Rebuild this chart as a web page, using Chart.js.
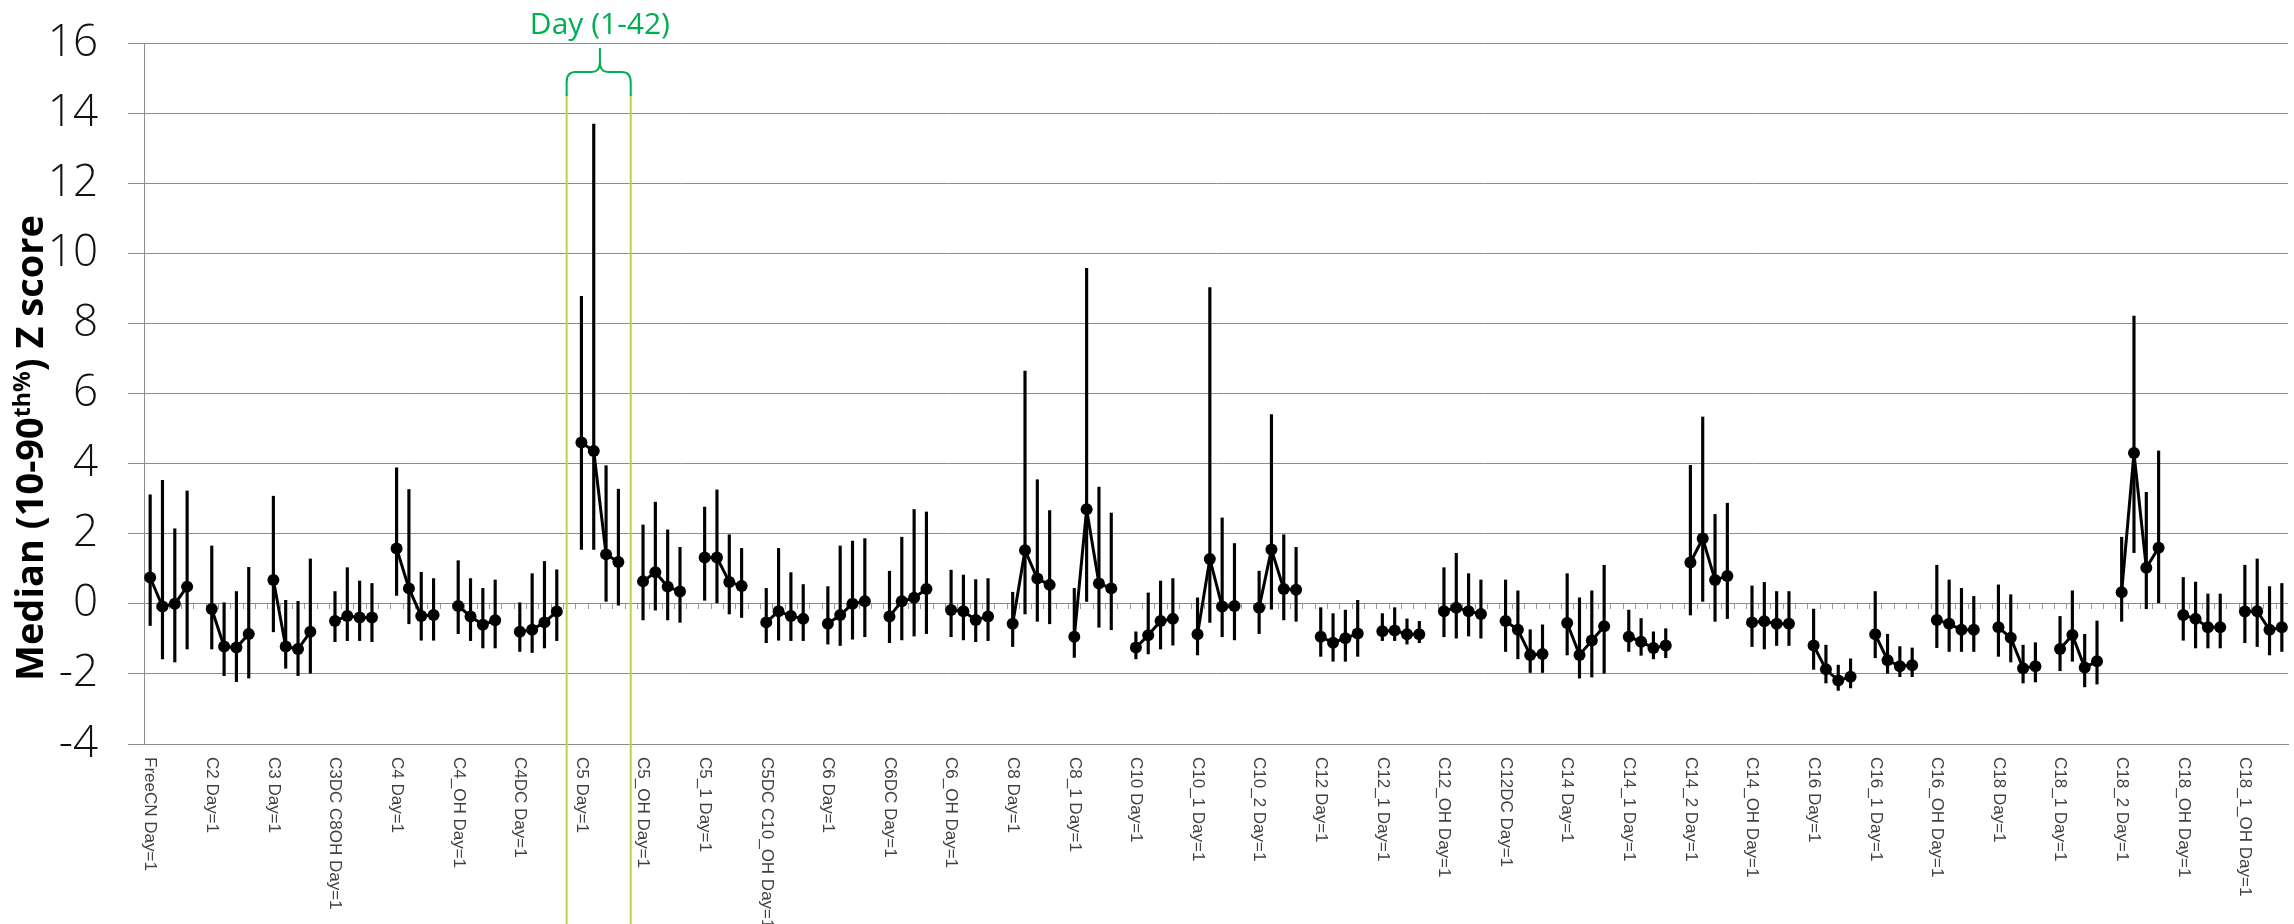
<!DOCTYPE html>
<html>
<head>
<meta charset="utf-8">
<script src="https://cdn.jsdelivr.net/npm/chart.js@4.4.1/dist/chart.umd.min.js"></script>
<style>
  html, body { margin: 0; padding: 0; background: #fff; overflow: hidden; }
  canvas { display: block; }
</style>
</head>
<body>
<canvas id="chart" width="2294" height="924"></canvas>
<script>
// Acylcarnitine species, four sampling days each
const compounds = ['FreeCN','C2','C3','C3DC C8OH','C4','C4_OH','C4DC','C5','C5_OH','C5_1',
  'C5DC C10_OH','C6','C6DC','C6_OH','C8','C8_1','C10','C10_1','C10_2','C12','C12_1','C12_OH',
  'C12DC','C14','C14_1','C14_2','C14_OH','C16','C16_1','C16_OH','C18','C18_1','C18_2','C18_OH','C18_1_OH'];

const tickLabels = compounds.map(c => c + ' Day=1');

// Median Z score per compound and day
const medians = [
  [0.75,-0.08,0.00,0.49],[-0.15,-1.22,-1.25,-0.86],[0.68,-1.22,-1.29,-0.80],[-0.49,-0.35,-0.39,-0.39],
  [1.58,0.44,-0.35,-0.32],[-0.06,-0.36,-0.60,-0.47],[-0.80,-0.74,-0.53,-0.22],[4.60,4.36,1.41,1.19],
  [0.64,0.90,0.49,0.35],[1.32,1.32,0.62,0.51],[-0.53,-0.21,-0.35,-0.43],[-0.57,-0.32,0.00,0.07],
  [-0.36,0.07,0.17,0.42],[-0.18,-0.21,-0.46,-0.36],[-0.57,1.53,0.72,0.54],[-0.94,2.70,0.58,0.44],
  [-1.25,-0.90,-0.49,-0.43],[-0.87,1.28,-0.08,-0.06],[-0.11,1.55,0.42,0.40],[-0.94,-1.11,-0.98,-0.85],
  [-0.78,-0.76,-0.87,-0.87],[-0.21,-0.11,-0.21,-0.29],[-0.49,-0.74,-1.46,-1.43],[-0.55,-1.46,-1.05,-0.64],
  [-0.94,-1.08,-1.26,-1.19],[1.18,1.86,0.68,0.79],[-0.53,-0.50,-0.57,-0.57],[-1.19,-1.87,-2.19,-2.08],
  [-0.87,-1.61,-1.78,-1.75],[-0.46,-0.57,-0.74,-0.74],[-0.67,-0.97,-1.84,-1.78],[-1.29,-0.89,-1.82,-1.64],
  [0.33,4.30,1.03,1.60],[-0.32,-0.43,-0.67,-0.67],[-0.22,-0.21,-0.74,-0.67]
];

// 90th percentile
const p90 = [
  [3.11,3.52,2.14,3.22],[1.65,0.03,0.35,1.04],[3.07,0.10,0.07,1.28],[0.35,1.03,0.65,0.58],
  [3.88,3.26,0.90,0.72],[1.23,0.72,0.44,0.68],[0.03,0.86,1.21,0.97],[8.77,13.69,3.94,3.27],
  [2.25,2.90,2.11,1.61],[2.76,3.25,1.97,1.58],[0.44,1.58,0.89,0.55],[0.49,1.65,1.79,1.86],
  [0.93,1.90,2.69,2.62],[0.96,0.82,0.69,0.72],[0.33,6.64,3.54,2.66],[0.44,9.57,3.33,2.59],
  [-0.80,0.31,0.65,0.72],[0.17,9.02,2.45,1.72],[0.93,5.40,1.97,1.61],[-0.11,-0.28,-0.18,0.10],
  [-0.28,-0.11,-0.43,-0.50],[1.03,1.44,0.86,0.68],[0.68,0.37,-0.74,-0.60],[0.86,0.17,0.37,1.10],
  [-0.18,-0.42,-0.80,-0.71],[3.95,5.33,2.55,2.87],[0.51,0.61,0.35,0.35],[-0.15,-1.18,-1.75,-1.57],
  [0.35,-0.87,-1.22,-1.26],[1.10,0.68,0.44,0.21],[0.54,0.26,-1.18,-1.11],[-0.36,0.37,-0.87,-0.49],
  [1.90,8.21,3.18,4.36],[0.75,0.62,0.28,0.28],[1.10,1.28,0.49,0.58]
];

// 10th percentile
const p10 = [
  [-0.62,-1.57,-1.66,-1.29],[-1.29,-2.05,-2.22,-2.12],[-0.80,-1.84,-2.05,-1.98],[-1.08,-1.05,-1.05,-1.08],
  [0.24,-0.57,-1.04,-1.04],[-0.85,-1.05,-1.26,-1.26],[-1.36,-1.39,-1.26,-1.05],[1.55,1.55,0.07,-0.04],
  [-0.46,-0.18,-0.46,-0.53],[0.10,0.03,-0.29,-0.39],[-1.11,-1.04,-1.05,-1.05],[-1.15,-1.19,-1.01,-0.94],
  [-1.11,-1.03,-0.92,-0.85],[-0.94,-1.03,-1.08,-1.05],[-1.22,-0.29,-0.50,-0.57],[-1.53,0.07,-0.67,-0.74],
  [-1.57,-1.43,-1.29,-1.18],[-1.46,-0.53,-0.94,-1.03],[-0.85,-0.15,-0.46,-0.50],[-1.50,-1.64,-1.64,-1.50],
  [-1.05,-1.05,-1.15,-1.11],[-0.94,-0.98,-0.92,-0.98],[-1.36,-1.57,-1.96,-1.96],[-1.46,-2.12,-2.09,-1.98],
  [-1.36,-1.47,-1.57,-1.54],[-0.32,0.07,-0.50,-0.42],[-1.22,-1.29,-1.19,-1.19],[-1.87,-2.26,-2.47,-2.40],
  [-1.54,-1.98,-2.08,-2.08],[-1.25,-1.36,-1.36,-1.36],[-1.50,-1.66,-2.26,-2.23],[-1.91,-1.64,-2.37,-2.29],
  [-0.50,1.46,-0.14,0.03],[-1.04,-1.26,-1.26,-1.26],[-1.11,-1.22,-1.46,-1.36]
];

const yTickValues = [-4,-2,0,2,4,6,8,10,12,14,16];

const bracketGroup = 'C5';
const bracketText = 'Day (1-42)';

const GRID = '#8c8c8c';
const DAYS = 4;             // points per compound
const PER_GROUP = DAYS + 1; // plus one empty spacer slot

// Expand to one slot per point, with a blank spacer between compounds
const slotLabels = [], lineData = [], rangeData = [];
compounds.forEach((name, g) => {
  for (let d = 0; d < DAYS; d++) {
    slotLabels.push(d === 0 ? tickLabels[g] : '');
    lineData.push(medians[g][d]);
    rangeData.push([p10[g][d], p90[g][d]]);
  }
  if (g < compounds.length - 1) {
    slotLabels.push('');
    lineData.push(null);
    rangeData.push(null);
  }
});

const decorations = {
  id: 'decorations',
  beforeDatasetsDraw(chart) {
    // small tick marks hanging below the zero line
    const { ctx } = chart;
    const xs = chart.scales.x, ys = chart.scales.y;
    const y0 = Math.round(ys.getPixelForValue(0));
    const slot = xs.getPixelForValue(1) - xs.getPixelForValue(0);
    ctx.save();
    ctx.strokeStyle = '#9a9a9a';
    ctx.lineWidth = 1;
    ctx.beginPath();
    for (let i = 1; i < slotLabels.length; i++) {
      const x = Math.round(xs.getPixelForValue(i) - slot / 2) + 0.5;
      ctx.moveTo(x, y0);
      ctx.lineTo(x, y0 + 5);
    }
    ctx.stroke();
    ctx.restore();
  },
  afterDraw(chart) {
    const { ctx } = chart;
    const xs = chart.scales.x;

    // category labels, rotated to read downward
    ctx.save();
    ctx.fillStyle = '#404040';
    ctx.font = '17px "Liberation Sans", Arial, sans-serif';
    ctx.textAlign = 'left';
    ctx.textBaseline = 'middle';
    compounds.forEach((name, g) => {
      const x = xs.getPixelForValue(g * PER_GROUP);
      ctx.save();
      ctx.translate(x, 757);
      ctx.rotate(Math.PI / 2);
      ctx.fillText(tickLabels[g], 0, 0);
      ctx.restore();
    });
    ctx.restore();

    // y-axis title with superscript, centred on its own line
    ctx.save();
    const big = 'bold 38px "Open Sans", sans-serif';
    const small = 'bold 23px "Open Sans", sans-serif';
    const parts = [['Median (10-90', big, 0], ['th%', small, -13], [') Z score', big, 0]];
    let total = 0;
    parts.forEach(p => { ctx.font = p[1]; p.push(ctx.measureText(p[0]).width); total += p[3]; });
    ctx.translate(43, 448 + total / 2);
    ctx.rotate(-Math.PI / 2);
    ctx.fillStyle = '#000';
    ctx.textBaseline = 'alphabetic';
    ctx.textAlign = 'left';
    let x = 0;
    parts.forEach(p => { ctx.font = p[1]; ctx.fillText(p[0], x, p[2]); x += p[3]; });
    ctx.restore();

    // bracket marking the day range over one compound
    const g = compounds.indexOf(bracketGroup);
    const first = xs.getPixelForValue(g * PER_GROUP);
    const last = xs.getPixelForValue(g * PER_GROUP + DAYS - 1);
    const slot = xs.getPixelForValue(1) - xs.getPixelForValue(0);
    const L = first - 1.2 * slot, R = last + slot, M = (first + last) / 2;
    ctx.save();
    ctx.strokeStyle = '#b6d64c';
    ctx.lineWidth = 2;
    ctx.beginPath();
    ctx.moveTo(L, 95); ctx.lineTo(L, 924);
    ctx.moveTo(R, 95); ctx.lineTo(R, 924);
    ctx.stroke();
    ctx.strokeStyle = '#00b050';
    ctx.lineWidth = 2;
    ctx.beginPath();
    ctx.moveTo(L, 96);
    ctx.lineTo(L, 82);
    ctx.quadraticCurveTo(L, 72, L + 9, 72);
    ctx.lineTo(M - 8, 72);
    ctx.quadraticCurveTo(M, 72, M, 62);
    ctx.lineTo(M, 48);
    ctx.moveTo(M, 62);
    ctx.quadraticCurveTo(M, 72, M + 8, 72);
    ctx.lineTo(R - 9, 72);
    ctx.quadraticCurveTo(R, 72, R, 82);
    ctx.lineTo(R, 96);
    ctx.stroke();
    ctx.fillStyle = '#00b050';
    ctx.font = '30px "Open Sans", sans-serif';
    ctx.textAlign = 'center';
    ctx.textBaseline = 'alphabetic';
    ctx.fillText(bracketText, M, 34);
    ctx.restore();
  }
};

new Chart(document.getElementById('chart'), {
  data: {
    labels: slotLabels,
    datasets: [
      {
        type: 'line',
        data: lineData,
        borderColor: '#000',
        borderWidth: 3,
        pointRadius: 6,
        pointBackgroundColor: '#000',
        pointBorderWidth: 0,
        spanGaps: false,
        tension: 0,
        order: 1
      },
      {
        type: 'bar',
        data: rangeData,
        backgroundColor: '#000',
        barThickness: 2.5,
        order: 2
      }
    ]
  },
  options: {
    responsive: false,
    animation: false,
    devicePixelRatio: 1,
    layout: { padding: { top: 43, right: 3, left: 0, bottom: 0 } },
    plugins: { legend: { display: false }, tooltip: { enabled: false } },
    scales: {
      x: {
        type: 'category',
        offset: true,
        grid: { display: false },
        border: { color: GRID, width: 1 },
        ticks: { display: false },
        afterFit(s) { s.height = 180; }
      },
      y: {
        min: -4,
        max: 16,
        afterBuildTicks(s) { s.ticks = yTickValues.map(v => ({ value: v })); },
        grid: { color: GRID, lineWidth: 1, tickLength: 16, drawTicks: true },
        border: { color: GRID, width: 1 },
        ticks: {
          padding: 30,
          color: '#111',
          font: { family: '"Open Sans", sans-serif', size: 44, weight: 300 }
        },
        afterFit(s) {
          s.width = 144;
          s.paddingTop = 0;
          s.paddingBottom = 0;
        }
      }
    }
  },
  plugins: [decorations]
});
</script>
</body>
</html>
